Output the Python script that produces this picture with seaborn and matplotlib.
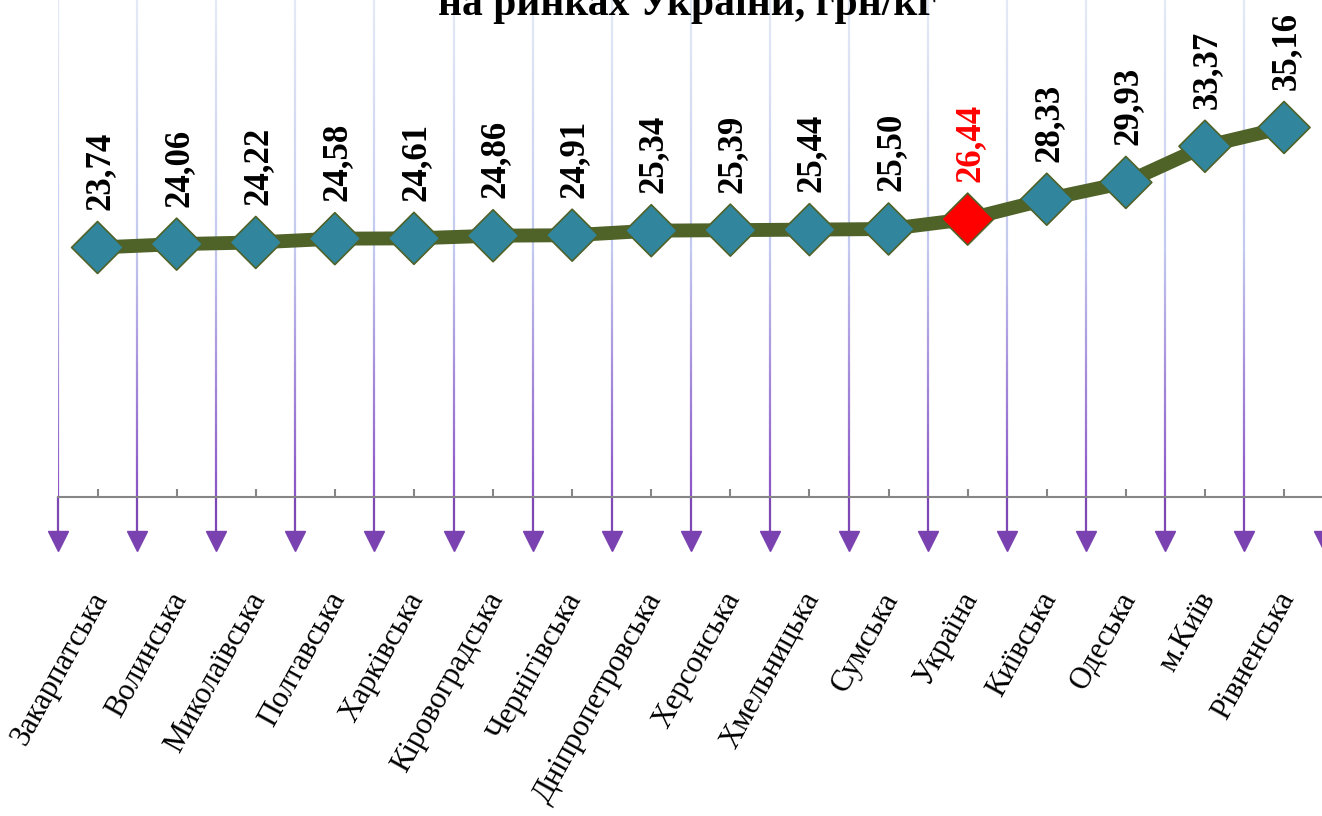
import matplotlib
matplotlib.use("Agg")
import matplotlib.pyplot as plt
import matplotlib.transforms as mtransforms
from matplotlib.collections import LineCollection
from matplotlib.colors import LinearSegmentedColormap
import seaborn as sns
import numpy as np
import pandas as pd

regions = ["Закарпатська", "Волинська", "Миколаївська", "Полтавська", "Харківська",
           "Кіровоградська", "Чернігівська", "Дніпропетровська", "Херсонська",
           "Хмельницька", "Сумська", "Україна", "Київська", "Одеська", "м.Київ",
           "Рівненська"]
prices = [23.74, 24.06, 24.22, 24.58, 24.61, 24.86, 24.91, 25.34, 25.39,
          25.44, 25.50, 26.44, 28.33, 29.93, 33.37, 35.16]
highlight = "Україна"

title = "на ринках України, грн/кг"

sns.set_style("white")
plt.rcParams["font.family"] = ["Liberation Serif", "DejaVu Serif"]

df = pd.DataFrame({"region": regions, "price": prices})
df["x"] = np.arange(len(df))

W, H = 1322, 816
fig = plt.figure(figsize=(W / 100, H / 100), dpi=100)
ax_left, ax_right, ax_bottom = 58, 1323.6, 497
ax = fig.add_axes([ax_left / W, (H - ax_bottom) / H, (ax_right - ax_left) / W, ax_bottom / H])
ax.set_xlim(-0.5, len(df) - 0.5)
ymax = ax_bottom / 10.51
ax.set_ylim(0, ymax)

# gridlines between categories: light at the top, purple near the axis, arrows below
cmap = LinearSegmentedColormap.from_list("grid", ["#e4e9f6", "#c3c9ef", "#8a55c6"])
bounds = np.arange(len(df) + 1) - 0.5
ys = np.linspace(ymax, 0, 60)
for b in bounds:
    segs = [[(b, ys[i]), (b, ys[i + 1])] for i in range(len(ys) - 1)]
    cols = cmap(np.linspace(0, 1, len(segs)))
    ax.add_collection(LineCollection(segs, colors=cols, linewidths=1.6, zorder=0))
    ax.plot([b, b], [0, -4.0], color="#7d48b4", lw=1.6, clip_on=False, zorder=0)
    ax.plot(b, -4.2, marker="v", ms=14, color="#7a42b0", mec="#7a42b0",
            clip_on=False, zorder=1)

sns.lineplot(data=df, x="x", y="price", ax=ax, color="#4f6228", lw=10,
             zorder=2, legend=False)
colors = ["#ff0000" if r == highlight else "#31859c" for r in regions]
ax.scatter(df["x"], df["price"], marker="D", s=700,
           c=colors, edgecolors="#4f6228", linewidths=1.2, zorder=3)

for xi, (r, v) in enumerate(zip(regions, prices)):
    ax.annotate(f"{v:.2f}".replace(".", ","), (xi, v), xytext=(1.5, 27),
                textcoords="offset points", rotation=90, ha="center", va="bottom",
                fontsize=25, fontweight="bold",
                color="#ff0000" if r == highlight else "black", zorder=4)

sns.despine(ax=ax, left=True, top=True, right=True)
ax.spines["bottom"].set_color("#868686")
ax.spines["bottom"].set_linewidth(1.5)
ax.set_yticks([])
ax.set_xticks(df["x"], regions)
ax.tick_params(axis="x", bottom=True, direction="in", length=6, width=1.5,
               color="#868686", pad=65, labelsize=22, labelcolor="black")
offset = mtransforms.ScaledTranslation(-9 / 100, 0, fig.dpi_scale_trans)
for lbl in ax.get_xticklabels():
    lbl.set_rotation(61)
    lbl.set_ha("right")
    lbl.set_va("top")
    lbl.set_rotation_mode("anchor")
    lbl.set_transform(lbl.get_transform() + offset)
ax.set_xlabel("")
ax.set_ylabel("")

fig.text(0.52, 1 - 15 / H, title, ha="center", va="baseline", fontsize=30,
         fontweight="bold", color="black")

fig.savefig("out.png", dpi=100)
